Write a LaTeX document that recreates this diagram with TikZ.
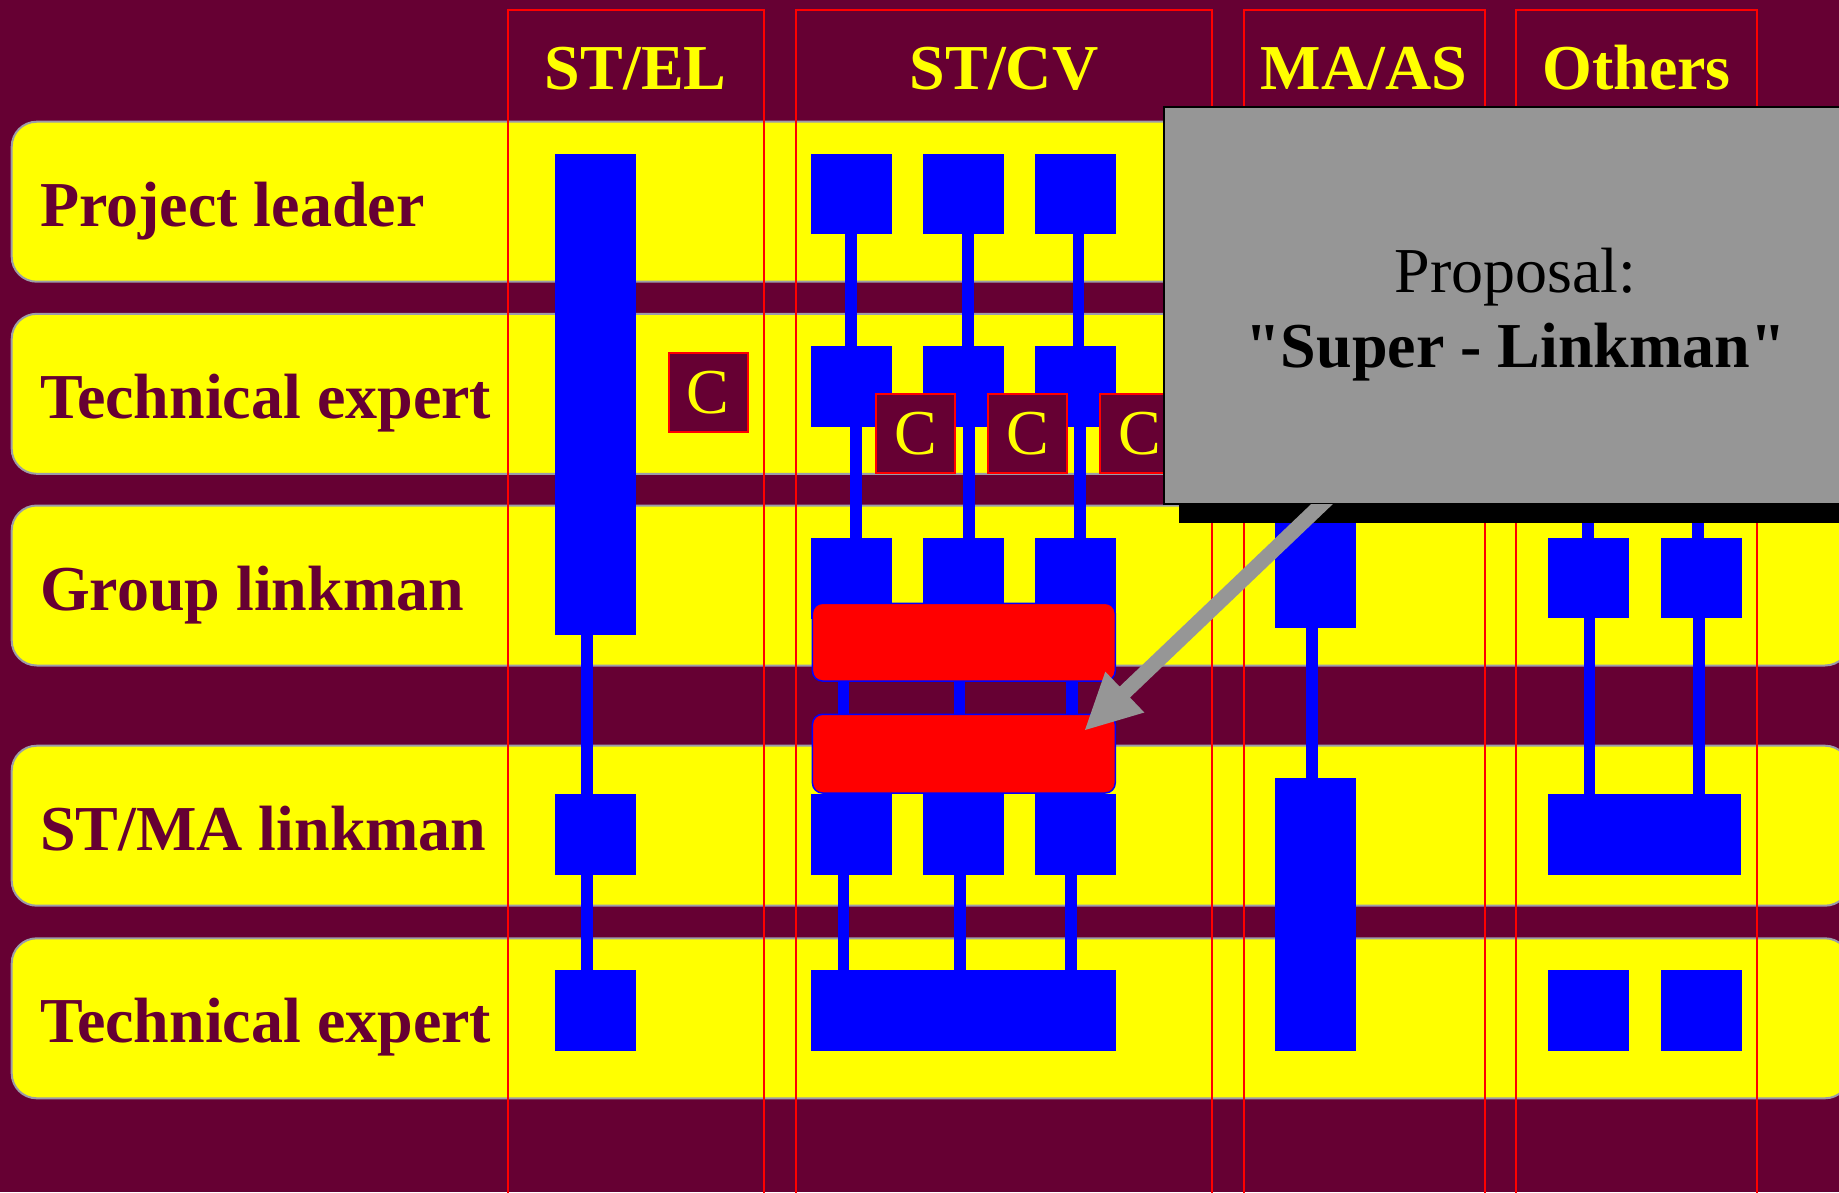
\documentclass[tikz,border=0pt]{standalone}
\usepackage{fontspec}
\setmainfont{Liberation Serif}[Ligatures=TeXOff]
\usetikzlibrary{calc}
\definecolor{maroon}{HTML}{660033}
\definecolor{ygold}{HTML}{FFFF00}
\definecolor{pblue}{HTML}{0000FF}
\definecolor{pred}{HTML}{FF0000}
\definecolor{pgray}{HTML}{969696}
\definecolor{rowline}{HTML}{9C9CA8}
\begin{document}
\begin{tikzpicture}[x=1pt,y=-1pt,
  rowbox/.style={fill=ygold,draw=rowline,line width=2pt,rounded corners=25pt},
  colbox/.style={draw=pred,line width=2pt},
  header/.style={font=\fontsize{64}{76}\selectfont\bfseries,text=ygold,anchor=base,inner sep=0},
  rowlabel/.style={font=\fontsize{64}{76}\selectfont\bfseries,text=maroon,anchor=base west,inner sep=0},
  sq/.style={fill=pblue,draw=none,inner sep=0,outer sep=0,minimum width=81pt,minimum height=80.5pt},
  conn/.style={draw=pblue,line width=11.7pt},
  cbox/.style={fill=maroon,draw=pred,line width=2pt,minimum width=79pt,minimum height=79pt,inner sep=0,outer sep=0,text=ygold,font=\fontsize{64}{76}\selectfont},
  redbar/.style={fill=pred,draw=pblue,line width=1.5pt,rounded corners=10pt,minimum width=302.8pt,inner sep=0,outer sep=0},
  proptext/.style={font=\fontsize{64}{76}\selectfont,text=black,anchor=base,inner sep=0},
  propbold/.style={font=\fontsize{64}{76}\selectfont\bfseries,text=black,anchor=base,inner sep=0}
]
\useasboundingbox (0,0) rectangle (1839,1192);
\clip (0,0) rectangle (1839,1192);
% background
\fill[maroon] (0,0) rectangle (1839,1192);
% rows
\foreach \t in {121.7,313.8,505.5,745.7,938.3}
  \draw[rowbox] (11.7,\t) rectangle (1850,\t+160);
% columns
\draw[colbox] (507.5,9.6) rectangle (764,1210);
\draw[colbox] (795.7,9.6) rectangle (1212,1210);
\draw[colbox] (1244,9.6) rectangle (1484.5,1210);
\draw[colbox] (1516,9.6) rectangle (1756.5,1210);
% headers
\node[header] (hEL) at (635.7,89.5) {ST/EL};
\node[header] (hCV) at (1004,89.5) {ST/CV};
\node[header] (hMA) at (1364,89.5) {MA/AS};
\node[header] (hOT) at (1636.5,89.5) {Others};
% row labels
\node[rowlabel] (l1) at (40,226) {Project leader};
\node[rowlabel] (l2) at (40,418) {Technical expert};
\node[rowlabel] (l3) at (40,610) {Group linkman};
\node[rowlabel] (l4) at (40,850) {ST/MA linkman};
\node[rowlabel] (l5) at (40,1042.5) {Technical expert};
% ST/EL
\node[sq,minimum height=480.9pt] (elbar) at (595.5,394.25) {};
\node[sq] (elr4) at (595.5,834.25) {};
\node[sq,minimum height=80.8pt] (elr5) at (595.5,1010.4) {};
\draw[conn] ([xshift=-8.5pt]elbar.south) -- ([xshift=-8.5pt]elr4.north);
\draw[conn] ([xshift=-8.5pt]elr4.south) -- ([xshift=-8.5pt]elr5.north);
\node[cbox] (elC) at (708,392.85) {C};
% ST/CV squares
\foreach \i/\x in {1/851.5,2/963.5,3/1075.5} {
  \node[sq] (cv\i-1) at (\x,194.2) {};
  \node[sq] (cv\i-2) at (\x,386.35) {};
  \node[sq] (cv\i-3) at (\x,578.25) {};
  \node[sq] (cv\i-4) at (\x,834.25) {};
}
\node[sq,minimum width=305pt,minimum height=80.8pt] (cv5) at (963.5,1010.4) {};
% ST/CV connectors
\draw[conn] ([xshift=-0.5pt]cv1-1.south) -- ([xshift=-0.5pt]cv1-2.north);
\draw[conn] ([xshift=4.7pt]cv2-1.south) -- ([xshift=4.7pt]cv2-2.north);
\draw[conn] ([xshift=3pt]cv3-1.south) -- ([xshift=3pt]cv3-2.north);
\draw[conn] ([xshift=4.4pt]cv1-2.south) -- ([xshift=4.4pt]cv1-3.north);
\draw[conn] ([xshift=5.7pt]cv2-2.south) -- ([xshift=5.7pt]cv2-3.north);
\draw[conn] ([xshift=4.4pt]cv3-2.south) -- ([xshift=4.4pt]cv3-3.north);
\draw[conn] ([xshift=-8pt]cv1-3.south) -- ([xshift=-8pt]cv1-4.north);
\draw[conn] ([xshift=-4pt]cv2-3.south) -- ([xshift=-4pt]cv2-4.north);
\draw[conn] ([xshift=-3.8pt]cv3-3.south) -- ([xshift=-3.8pt]cv3-4.north);
\draw[conn] ([xshift=-8pt]cv1-4.south) -- ([xshift=-8pt]cv1-4.south |- cv5.north);
\draw[conn] ([xshift=-3.5pt]cv2-4.south) -- ([xshift=-3.5pt]cv2-4.south |- cv5.north);
\draw[conn] ([xshift=-4.5pt]cv3-4.south) -- ([xshift=-4.5pt]cv3-4.south |- cv5.north);
% red bars
\node[redbar,minimum height=77.7pt] (rb1) at (963.85,642.15) {};
\node[redbar,minimum height=78.7pt] (rb2) at (963.85,753.65) {};
% C boxes in ST/CV
\node[cbox] (cvC1) at (915.8,433.8) {C};
\node[cbox] (cvC2) at (1027.8,433.8) {C};
\node[cbox] (cvC3) at (1139.8,433.8) {C};
% MA/AS
\node[sq,minimum height=127.7pt] (mar3) at (1315.5,563.85) {};
\node[sq,minimum height=273pt] (mabar) at (1315.5,914.3) {};
\draw[conn] ([xshift=-3.8pt]mar3.south) -- ([xshift=-3.8pt]mabar.north);
% Others
\node[sq] (ot3a) at (1588.5,578.1) {};
\node[sq] (ot3b) at (1701.5,578.1) {};
\node[sq,minimum width=193pt] (ot4) at (1644.5,834.35) {};
\node[sq,minimum height=80.8pt] (ot5a) at (1588.5,1010.4) {};
\node[sq,minimum height=80.8pt] (ot5b) at (1701.5,1010.4) {};
\coordinate (ota) at (1587.7,490);
\coordinate (otb) at (1698.2,490);
\draw[conn] (ota) -- (ota |- ot3a.north);
\draw[conn] (otb) -- (otb |- ot3b.north);
\draw[conn] ([xshift=1.1pt]ot3a.south) -- ([xshift=1.1pt]ot3a.south |- ot4.north);
\draw[conn] ([xshift=-2.2pt]ot3b.south) -- ([xshift=-2.2pt]ot3b.south |- ot4.north);
% proposal box with shadow
\fill[black] (1179,123.7) rectangle (1860,523.3);
\node[fill=pgray,draw=black,line width=2pt,inner sep=0,outer sep=0,
      minimum width=695.7pt,minimum height=397.3pt] (gbox) at (1512.15,305.35) {};
\node[proptext] (p1) at (1515.6,292.8) {Proposal:};
\node[propbold] (p2) at (1515.6,367.4) {"Super - Linkman"};
% arrow
\coordinate (tip) at (1085,730);
\fill[pgray] (1311.2,504) -- (1332.9,504) -- (1130.0,697.5) -- (1144.3,712.5)
   -- (tip) -- (1105.3,671.6) -- (1119.6,686.6) -- cycle;
\end{tikzpicture}
\end{document}
